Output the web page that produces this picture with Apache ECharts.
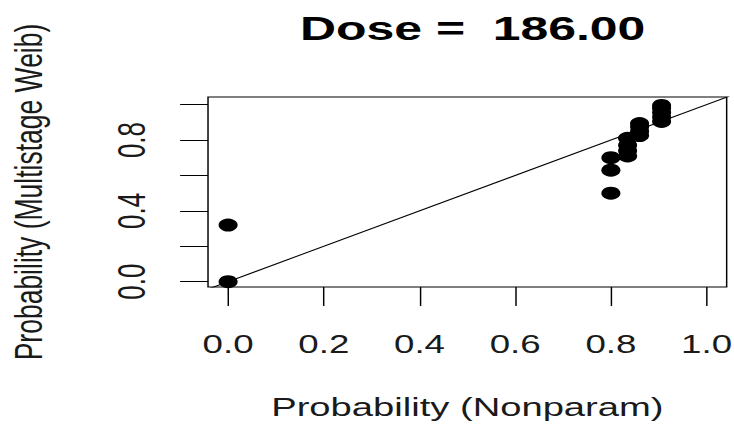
<!DOCTYPE html>
<html>
<head>
<meta charset="utf-8">
<script src="https://cdn.jsdelivr.net/npm/echarts@6/dist/echarts.min.js"></script>
<style>
    html, body { margin: 0; padding: 0; background: #fff; overflow: hidden; }
    /* the original picture is stretched sideways, so the chart is drawn narrow and widened */
    #main { width: 500px; height: 435px; transform: scaleX(1.468); transform-origin: 0 0; }
</style>
</head>
<body>
<div id="main"></div>
<script>
    // nonparametric probability (x) vs multistage weibull probability (y)
    const nonparam = [0, 0, 0.8, 0.8, 0.8, 0.835, 0.835, 0.835, 0.835, 0.86, 0.86, 0.86, 0.86, 0.906, 0.906, 0.906, 0.906, 0.906];
    const multistage = [0, 0.32, 0.50, 0.63, 0.70, 0.71, 0.74, 0.77, 0.81, 0.825, 0.85, 0.875, 0.893, 0.905, 0.93, 0.955, 0.98, 0.995];
    const xTicks = [0, 0.2, 0.4, 0.6, 0.8, 1.0];
    const yTicks = [0, 0.2, 0.4, 0.6, 0.8, 1.0];
    const yTickLabels = [0, 0.4, 0.8];
    const identity = [-0.1, 1.1];   // y = x reference line

    const font = "'Liberation Sans', Arial, sans-serif";
    const chart = echarts.init(document.getElementById('main'), null, {renderer: 'svg'});

    const option = {
        backgroundColor: '#fff',
        animation: false,
        title: {
            text: 'Dose =\u00a0 186.00',
            left: 317,
            top: 6,
            textAlign: 'center',
            textStyle: {fontFamily: font, fontSize: 34, fontWeight: 'bold', color: '#000'}
        },
        grid: {
            left: 141.7, right: 5, top: 97, bottom: 148,
            outerBoundsMode: 'none',
            show: true, borderColor: '#000', borderWidth: 1, backgroundColor: 'transparent'
        },
        xAxis: {
            type: 'value',
            min: -0.042, max: 1.042,
            name: 'Probability (Nonparam)',
            nameLocation: 'middle',
            nameGap: 107,
            nameTextStyle: {fontFamily: font, fontSize: 26, color: '#1a1a1a'},
            axisLine: {show: false, onZero: false},
            splitLine: {show: false},
            axisTick: {show: true, length: 19, customValues: xTicks, lineStyle: {color: '#000', width: 1}},
            axisLabel: {
                customValues: xTicks, margin: 45,
                fontFamily: font, fontSize: 25, color: '#1a1a1a',
                formatter: v => v.toFixed(1)
            }
        },
        yAxis: {
            type: 'value',
            min: -0.03, max: 1.043,
            name: 'Probability (Multistage Weib)',
            nameLocation: 'middle',
            nameGap: 109,
            nameRotate: 90,
            nameTextStyle: {fontFamily: font, fontSize: 26.5, color: '#1a1a1a'},
            axisLine: {show: false, onZero: false},
            splitLine: {show: false},
            axisTick: {show: true, length: 19, customValues: yTicks, lineStyle: {color: '#000', width: 1}},
            axisLabel: {
                customValues: yTickLabels, margin: 39, rotate: 90,
                fontFamily: font, fontSize: 26, color: '#1a1a1a',
                formatter: v => v.toFixed(1)
            }
        },
        series: [
            {
                type: 'line',
                data: identity.map(v => [v, v]),
                symbol: 'none',
                clip: true,
                lineStyle: {color: '#000', width: 1}
            },
            {
                type: 'scatter',
                data: nonparam.map((x, i) => [x, multistage[i]]),
                symbol: 'circle',
                symbolSize: 13,
                itemStyle: {color: '#000', opacity: 1}
            }
        ]
    };
    chart.setOption(option);
</script>
</body>
</html>
